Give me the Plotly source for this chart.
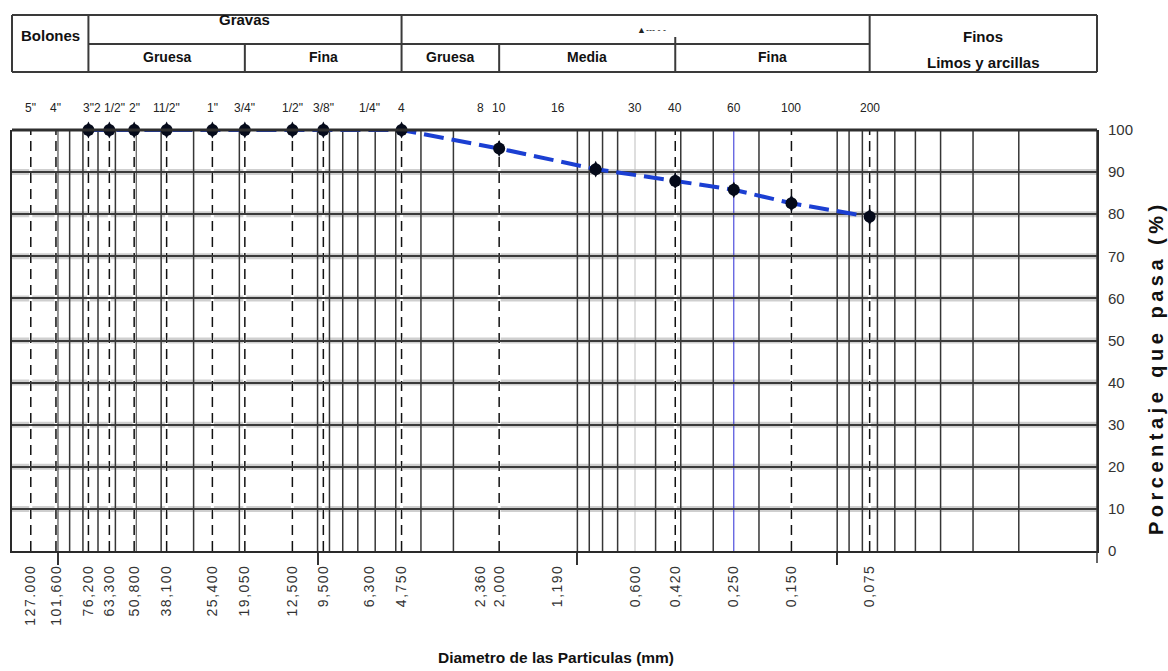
import math
import plotly.graph_objects as go

# --- Tamices (abertura en mm) y designaciones ---
sieve_mm = [127.0, 101.6, 76.2, 63.3, 50.8, 38.1, 25.4, 19.05, 12.5, 9.5,
            6.3, 4.75, 2.36, 2.0, 1.19, 0.6, 0.42, 0.25, 0.15, 0.075]
sieve_names = ['5"', '4"', '3"', '2 1/2"', '2"', '11/2"', '1"', '3/4"', '1/2"', '3/8"',
               '1/4"', '4', '8', '10', '16', '30', '40', '60', '100', '200']
sieve_ticktext = ['127.000', '101,600', '76,200', '63,300', '50,800', '38,100', '25,400',
                  '19,050', '12,500', '9,500', '6,300', '4,750', '2,360', '2,000', '1,190',
                  '0,600', '0,420', '0,250', '0,150', '0,075']
dashed_mm = [127.0, 101.6, 76.2, 63.3, 50.8, 38.1, 25.4, 19.05, 12.5, 9.5,
             4.75, 2.0, 0.42, 0.15, 0.075]

# --- Ensayo granulométrico: % que pasa ---
test_mm = [76.2, 63.3, 50.8, 38.1, 25.4, 19.05, 12.5, 9.5, 4.75, 2.0, 0.85, 0.42, 0.25, 0.15, 0.075]
test_pass = [100, 100, 100, 100, 100, 100, 100, 100, 100, 95.6, 90.7, 87.9, 85.8, 82.6, 79.4]

# --- Clasificación del suelo (límites en mm) ---
x_max_mm, x_min_mm = 150.0, 0.01
main_bounds = [x_max_mm, 76.2, 4.75, 0.075, x_min_mm]
main_labels = ['Bolones', 'Gravas', '\u25b2\u2010\u2010\u2010 \u2010 \u2010', 'Finos']
gravel_bounds = [76.2, 19.05, 4.75]
gravel_labels = ['Gruesa', 'Fina']
sand_bounds = [4.75, 2.0, 0.42, 0.075]
sand_labels = ['Gruesa', 'Media', 'Fina']
y_ticks = list(range(0, 101, 10))

SANS = "Liberation Sans, Arial, sans-serif"
INK = "#333333"

W, H = 1168, 671
M_L, M_R, M_T, M_B = 10, 71, 130, 120
PLOT_H = H - M_T - M_B
PLOT_BOTTOM = H - M_B


def yp(px):
    """pixel row -> paper y"""
    return (PLOT_BOTTOM - px) / PLOT_H


def lmid(a, b):
    """centre of an interval on the log axis (annotation coords)"""
    return (math.log10(a) + math.log10(b)) / 2


def spaced(text, px):
    return '<span style="letter-spacing:%spx">%s</span>' % (px, text)


fig = go.Figure()

shapes = []
# vertical log grid (1..9 x 10^k)
grid_vals = [m * 10 ** k for k in range(-2, 2) for m in range(1, 10)] + [100.0]
for v in grid_vals:
    if abs(v - 0.6) < 1e-9:
        color, width = "#bdbdbd", 1
    else:
        color, width = "#363636", 1.5
    shapes.append(dict(type="line", xref="x", yref="y", x0=v, x1=v, y0=0, y1=100,
                       line=dict(color=color, width=width), layer="below"))
# 0.25 mm reference line
shapes.append(dict(type="line", xref="x", yref="y", x0=0.25, x1=0.25, y0=0, y1=100,
                   line=dict(color="#2b2bd6", width=1), layer="below"))
# dashed sieve lines
for v in dashed_mm:
    shapes.append(dict(type="line", xref="x", yref="y", x0=v, x1=v, y0=0, y1=100,
                       line=dict(color="white", width=3), layer="below"))
    shapes.append(dict(type="line", xref="x", yref="y", x0=v, x1=v, y0=0, y1=100,
                       line=dict(color="#111111", width=1.5, dash="10px,6px"), layer="below"))
# soft halo around horizontal grid lines
for t in y_ticks[1:-1]:
    shapes.append(dict(type="line", xref="paper", yref="y", x0=0, x1=1, y0=t, y1=t,
                       line=dict(color="#cfcfcf", width=6), layer="below"))

# heavy top border of the plot
shapes.append(dict(type="line", xref="paper", yref="paper", x0=0, x1=1, y0=1, y1=1,
                   line=dict(color="#2e2e2e", width=3), layer="above"))
# right axis stub below zero
shapes.append(dict(type="line", xref="paper", yref="paper", x0=1, x1=1, y0=0, y1=yp(563),
                   line=dict(color=INK, width=1.5)))

# --- classification header table ---
hdr_top, hdr_mid, hdr_bot = yp(15), yp(44), yp(72)
hline = dict(color="#3a3a3a", width=2)
shapes += [
    dict(type="line", xref="paper", yref="paper", x0=0, x1=1, y0=hdr_top, y1=hdr_top, line=hline),
    dict(type="line", xref="paper", yref="paper", x0=0, x1=1, y0=hdr_bot, y1=hdr_bot, line=hline),
    dict(type="line", xref="paper", yref="paper", x0=0, x1=0, y0=hdr_bot, y1=hdr_top, line=hline),
    dict(type="line", xref="paper", yref="paper", x0=1, x1=1, y0=hdr_bot, y1=hdr_top, line=hline),
    dict(type="line", xref="x", yref="paper", x0=main_bounds[1], x1=main_bounds[3],
         y0=hdr_mid, y1=hdr_mid, line=hline),
]
for b in main_bounds[1:-1]:
    shapes.append(dict(type="line", xref="x", yref="paper", x0=b, x1=b, y0=hdr_bot, y1=hdr_top, line=hline))
for b in gravel_bounds[1:-1] + sand_bounds[1:-1]:
    top = yp(37) if b == sand_bounds[2] else hdr_mid
    shapes.append(dict(type="line", xref="x", yref="paper", x0=b, x1=b, y0=hdr_bot, y1=top, line=hline))

annotations = []


def note(x, y, text, font, xref="x", **kw):
    annotations.append(dict(xref=xref, yref="paper", x=x, y=y, text=text, showarrow=False,
                            xanchor="center", yanchor="middle", font=font, **kw))


hfont = dict(family=SANS, size=15, color="#111111")
sfont = dict(family=SANS, size=14, color="#111111")
# main classes
note(lmid(main_bounds[0], main_bounds[1]), yp(36), "<b>%s</b>" % main_labels[0], hfont)
note(lmid(main_bounds[1], main_bounds[2]), yp(19), "<b>%s</b>" % main_labels[1], hfont)
note(lmid(main_bounds[2], main_bounds[3]), yp(30), main_labels[2],
     dict(family=SANS, size=9, color="#222222"), xshift=16)
note(lmid(main_bounds[3], main_bounds[4]), yp(37), "<b>%s</b>" % main_labels[3], hfont)
note(lmid(main_bounds[3], main_bounds[4]), yp(63), "<b>Limos y arcillas</b>", hfont)
# sub classes
for bounds, labels in ((gravel_bounds, gravel_labels), (sand_bounds, sand_labels)):
    for i, lab in enumerate(labels):
        note(lmid(bounds[i], bounds[i + 1]), yp(57), "<b>%s</b>" % lab, sfont)

# sieve designations above the chart
for v, name in zip(sieve_mm, sieve_names):
    note(math.log10(v), 1, name, dict(family=SANS, size=12, color="#222222"), yshift=22)

# axis titles
note((555 - M_L) / (W - M_L - M_R), yp(657), "<b>Diametro de las Particulas (mm)</b>",
     dict(family=SANS, size=15.5, color="#111111"), xref="paper")
note(1, yp(368), spaced("<b>Porcentaje que pasa (%)</b>", 4.5),
     dict(family=SANS, size=20, color="#111111"), xref="paper", xshift=59, textangle=-90)

# --- curve ---
fig.add_trace(go.Scatter(
    x=test_mm, y=test_pass, mode="lines",
    line=dict(color="#1b3fd2", width=4, dash="20px,8px"),
    cliponaxis=False, hoverinfo="skip", showlegend=False))
# tall oval markers: a tall diamond under a circle
fig.add_trace(go.Scatter(
    x=test_mm, y=test_pass, mode="markers",
    marker=dict(symbol="diamond-tall", size=12, color="#050a1a"),
    cliponaxis=False, hoverinfo="skip", showlegend=False))
fig.add_trace(go.Scatter(
    x=test_mm, y=test_pass, mode="markers",
    marker=dict(symbol="circle", size=12, color="#050a1a"),
    cliponaxis=False, showlegend=False))

fig.update_xaxes(
    type="log", range=[math.log10(x_max_mm), math.log10(x_min_mm)],
    tickmode="array", tickvals=sieve_mm, ticktext=[spaced(t, 1.5) for t in sieve_ticktext],
    tickangle=-90, ticks="", ticklabelstandoff=6,
    tickfont=dict(family=SANS, size=14, color="#333333"),
    showgrid=False, zeroline=False,
    showline=True, linecolor="#2a2a2a", linewidth=2,
    minor=dict(tickmode="array", tickvals=[100, 10, 1, 0.1], ticks="outside",
               ticklen=12, tickcolor=INK, tickwidth=1.5, showgrid=False),
)
fig.update_yaxes(
    range=[0, 100], tickmode="array", tickvals=y_ticks, side="right",
    ticks="", ticklabelstandoff=6,
    tickfont=dict(family=SANS, size=15, color="#333333"),
    showgrid=True, gridcolor="#3a3a3a", gridwidth=2, zeroline=False,
    showline=True, linecolor="#2a2a2a", linewidth=2, mirror=True,
)
fig.update_layout(
    width=W, height=H, autosize=False,
    margin=dict(l=M_L, r=M_R, t=M_T, b=M_B),
    paper_bgcolor="white", plot_bgcolor="white",
    shapes=shapes, annotations=annotations, showlegend=False,
)
fig.write_html("out.html")
